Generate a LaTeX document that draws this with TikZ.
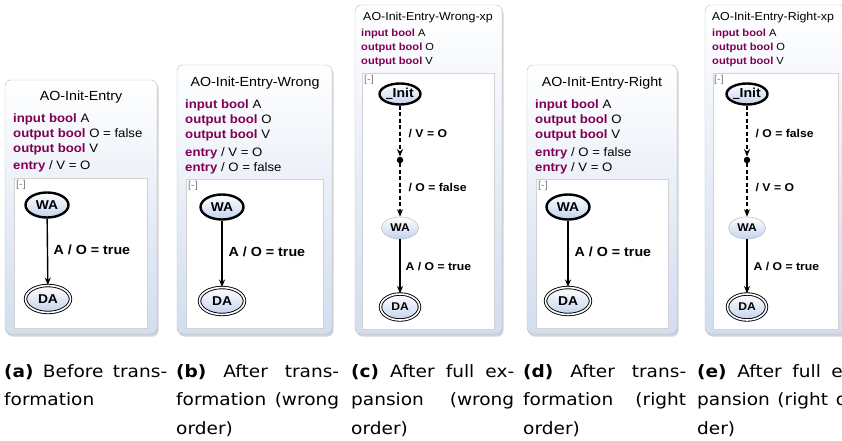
\documentclass[tikz,border=0pt]{standalone}
\usepackage{fontspec}
\setmainfont{Liberation Sans}[FakeStretch=1.08]
\newfontfamily\capfont{DejaVu Sans}[FakeStretch=1.09]
\newfontfamily\symfont{DejaVu Sans}
\usetikzlibrary{arrows.meta,shapes.geometric,shadows}
\definecolor{kwd}{HTML}{7F0055}
\definecolor{boxblu}{HTML}{D2DDEF}
\definecolor{nodeblu}{HTML}{C2D3EE}
\definecolor{frame}{HTML}{B6BCC6}
\newcommand{\kwd}[1]{\textcolor{kwd}{\textbf{#1}}}
\newcommand{\initname}{\raisebox{1pt}{\symfont\bfseries\_}Init}

\tikzset{
  statebox/.style={draw=frame, rounded corners=6pt, top color=white, bottom color=boxblu,
    drop shadow={shadow xshift=1.5pt, shadow yshift=-2.5pt, fill=gray, opacity=.35}},
  region/.style={draw=gray!35, fill=white},
  boxtitle/.style={font=\fontsize{13.2}{16}\selectfont, inner sep=0},
  smalltitle/.style={font=\fontsize{11.5}{14}\selectfont, inner sep=0},
  decl/.style={anchor=base west, inner sep=0, font=\fontsize{12.2}{15}\selectfont},
  smalldecl/.style={anchor=base west, inner sep=0, font=\fontsize{10.3}{13}\selectfont},
  collapse/.style={text=gray, inner sep=0, font=\fontsize{10}{10}\selectfont},
  statenode/.style={ellipse, top color=white, bottom color=nodeblu, inner sep=0,
    font=\bfseries\fontsize{12.8}{15}\selectfont, minimum width=43pt, minimum height=25pt},
  initstate/.style={statenode, draw, line width=2.4pt},
  finalstate/.style={statenode, draw, line width=0.9pt, double=white, double distance=1.6pt,
    minimum width=45pt, minimum height=27pt},
  plainstate/.style={statenode, draw=gray!55, line width=0.5pt},
  smallstate/.style={font=\bfseries\fontsize{11.2}{14}\selectfont},
  junction/.style={circle, fill, inner sep=0, minimum size=6.5pt},
  trans/.style={-{Stealth[length=7.5pt,width=6pt]}, line width=1.4pt},
  dashtrans/.style={trans, dash pattern=on 4pt off 2.5pt},
  translab/.style={anchor=west, inner sep=0, font=\bfseries\fontsize{13.2}{16}\selectfont},
  smalllab/.style={anchor=west, inner sep=0, font=\bfseries\fontsize{11.3}{14}\selectfont},
  caption/.style={anchor=north west, inner sep=0, text width=163pt, align=justify,
    font=\capfont\fontsize{17}{28.5}\selectfont}
}

\begin{document}
\begin{tikzpicture}[x=1pt,y=-1pt]
\useasboundingbox (0,0) rectangle (842,441);
% frames and regions
\draw[statebox] (5,80) rectangle (157,334);
\draw[statebox] (177,65) rectangle (332,334);
\draw[statebox] (355,5) rectangle (502,334);
\draw[statebox] (527,65) rectangle (677,334);
\draw[statebox] (705,5) rectangle (846,334);
\fill[region] (14,178) rectangle (147,328);
\fill[region] (186,179) rectangle (323,328);
\fill[region] (362,73) rectangle (494,329);
\fill[region] (536,179) rectangle (668,328);
\fill[region] (713,73) rectangle (838,329);
\foreach \cx/\cy in {21/185,193/186,369/80,543/186,719/80}
  \node[collapse] at (\cx,\cy) {[-]};

% (a) before transformation
\node[boxtitle] (titlea) at (81,97) {AO-Init-Entry};
\node[decl] (a1) at (13,122) {\kwd{input bool} A};
\node[decl] (a2) at (13,137) {\kwd{output bool} O = false};
\node[decl] (a3) at (13,152) {\kwd{output bool} V};
\node[decl] (a4) at (13,169) {\kwd{entry} / V = O};
\node[initstate] (waa) at (47,205) {WA};
\node[finalstate] (daa) at (48,299) {DA};
\draw[trans] (waa) -- (daa) node[translab] (laba) at (53,250) {A / O = true};

% (b) wrong order
\node[boxtitle] (titleb) at (255,83) {AO-Init-Entry-Wrong};
\node[decl] (b1) at (185,108) {\kwd{input bool} A};
\node[decl] (b2) at (185,123) {\kwd{output bool} O};
\node[decl] (b3) at (185,138) {\kwd{output bool} V};
\node[decl] (b4) at (185,156) {\kwd{entry} / V = O};
\node[decl] (b5) at (185,171) {\kwd{entry} / O = false};
\node[initstate] (wab) at (222,207) {WA};
\node[finalstate] (dab) at (222,301) {DA};
\draw[trans] (wab) -- (dab) node[translab] (labb) at (228,252) {A / O = true};

% (c) wrong order, expanded
\node[smalltitle] (titlec) at (428,18) {AO-Init-Entry-Wrong-xp};
\node[smalldecl] (c1) at (361,37) {\kwd{input bool} A};
\node[smalldecl] (c2) at (361,51) {\kwd{output bool} O};
\node[smalldecl] (c3) at (361,65) {\kwd{output bool} V};
\node[initstate, font=\bfseries\fontsize{13}{14}\selectfont, minimum width=41pt, minimum height=21pt] (initc) at (400,94) {\initname};
\node[junction] (jc) at (400,160) {};
\node[plainstate, smallstate, minimum width=37pt, minimum height=22pt] (wac) at (400,228) {WA};
\node[finalstate, smallstate, minimum width=39pt, minimum height=26pt] (dac) at (400,307) {DA};
\draw[dashtrans] (initc) -- (jc) node[smalllab] (labc1) at (408,134) {/ V = O};
\draw[dashtrans] (jc) -- (wac) node[smalllab] (labc2) at (408,188) {/ O = false};
\draw[trans] (wac) -- (dac) node[smalllab] (labc3) at (405,267) {A / O = true};

% (d) right order
\node[boxtitle] (titled) at (602,83) {AO-Init-Entry-Right};
\node[decl] (d1) at (535,108) {\kwd{input bool} A};
\node[decl] (d2) at (535,123) {\kwd{output bool} O};
\node[decl] (d3) at (535,138) {\kwd{output bool} V};
\node[decl] (d4) at (535,156) {\kwd{entry} / O = false};
\node[decl] (d5) at (535,171) {\kwd{entry} / V = O};
\node[initstate] (wad) at (568,207) {WA};
\node[finalstate] (dad) at (568,301) {DA};
\draw[trans] (wad) -- (dad) node[translab] (labd) at (574,252) {A / O = true};

% (e) right order, expanded
\node[smalltitle] (titlee) at (773,18) {AO-Init-Entry-Right-xp};
\node[smalldecl] (e1) at (712,37) {\kwd{input bool} A};
\node[smalldecl] (e2) at (712,51) {\kwd{output bool} O};
\node[smalldecl] (e3) at (712,65) {\kwd{output bool} V};
\node[initstate, font=\bfseries\fontsize{13}{14}\selectfont, minimum width=41pt, minimum height=21pt] (inite) at (747,94) {\initname};
\node[junction] (je) at (747,160) {};
\node[plainstate, smallstate, minimum width=37pt, minimum height=22pt] (wae) at (747,228) {WA};
\node[finalstate, smallstate, minimum width=39pt, minimum height=26pt] (dae) at (747,307) {DA};
\draw[dashtrans] (inite) -- (je) node[smalllab] (labe1) at (755,134) {/ O = false};
\draw[dashtrans] (je) -- (wae) node[smalllab] (labe2) at (755,188) {/ V = O};
\draw[trans] (wae) -- (dae) node[smalllab] (labe3) at (753,267) {A / O = true};

% captions
\node[caption] (capa) at (4,364) {\textbf{(a)} Before trans-\linebreak formation};
\node[caption] (capb) at (176,364) {\textbf{(b)} After trans-\linebreak formation (wrong\linebreak order)};
\node[caption] (capc) at (351,364) {\textbf{(c)} After full ex-\linebreak pansion (wrong\linebreak order)};
\node[caption] (capd) at (523,364) {\textbf{(d)} After trans-\linebreak formation (right\linebreak order)};
\node[caption] (cape) at (697,364) {\textbf{(e)} After full ex-\linebreak pansion (right or-\linebreak der)};
\end{tikzpicture}
\end{document}
